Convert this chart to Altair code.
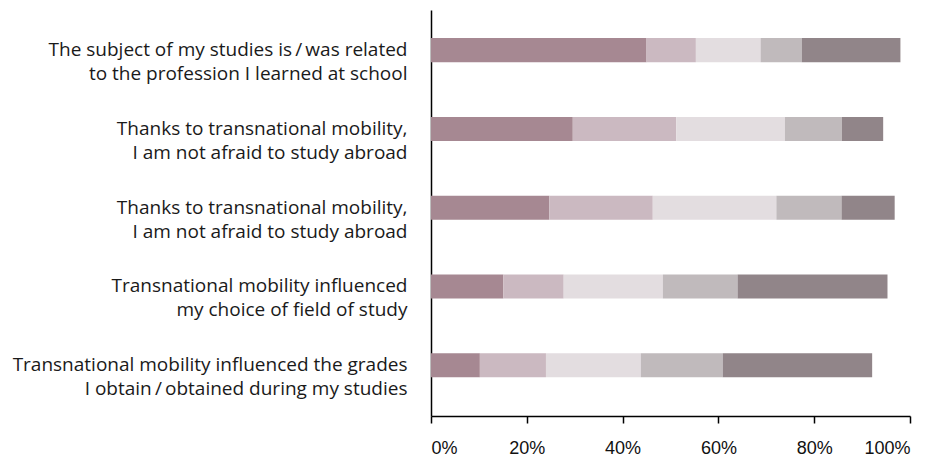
import json
import altair as alt
import pandas as pd

# Statements (two lines each), top to bottom
statements = [
    ["The subject of my studies is\u2009/\u2009was related", "to the profession I learned at school"],
    ["Thanks to transnational mobility,", "I am not afraid to study abroad"],
    ["Thanks to transnational mobility,", "I am not afraid to study abroad"],
    ["Transnational mobility influenced", "my choice of field of study"],
    ["Transnational mobility influenced the grades", "I obtain\u2009/\u2009obtained during my studies"],
]

# Response categories (left to right) and their colours
responses = ["R1", "R2", "R3", "R4", "R5"]
colors = ["#A68892", "#CBB9C1", "#E3DDE0", "#C0BABC", "#918589"]

# Percent shares per statement, per response category
values = [
    [45.0, 10.3, 13.5, 8.6, 20.6],
    [29.6, 21.6, 22.7, 11.9, 8.6],
    [24.7, 21.6, 25.8, 13.6, 11.1],
    [15.1, 12.6, 20.7, 15.6, 31.3],
    [10.2, 13.8, 19.8, 17.1, 31.2],
]

keys = [str(i) for i in range(len(statements))]
rows = []
for i, vals in enumerate(values):
    for j, v in enumerate(vals):
        rows.append({"key": keys[i], "resp": responses[j], "order": j, "value": v / 100.0})
df = pd.DataFrame(rows)

label_expr = json.dumps(statements) + "[toNumber(datum.value)]"

chart = (
    alt.Chart(df)
    .mark_bar()
    .encode(
        x=alt.X(
            "value:Q",
            stack="zero",
            scale=alt.Scale(domain=[0, 1], nice=False),
            axis=alt.Axis(
                format=".0%",
                values=[0, 0.2, 0.4, 0.6, 0.8, 1.0],
                title=None,
                grid=False,
                domainColor="#000000",
                domainWidth=1.5,
                tickColor="#000000",
                tickWidth=1.5,
                tickSize=7,
                labelFont="Liberation Sans",
                labelFontSize=18,
                labelColor="#111111",
                labelPadding=16,
            ),
        ),
        y=alt.Y(
            "key:N",
            sort=keys,
            scale=alt.Scale(domain=keys, paddingInner=0.695, paddingOuter=0.425, align=0.42),
            axis=alt.Axis(
                title=None,
                ticks=False,
                grid=False,
                domainColor="#000000",
                domainWidth=1.5,
                labelExpr=label_expr,
                labelFont="Open Sans",
                labelFontSize=19,
                labelColor="#1a1a1a",
                labelLineHeight=24,
                labelPadding=24,
                labelLimit=0,
            ),
        ),
        color=alt.Color(
            "resp:N",
            scale=alt.Scale(domain=responses, range=colors),
            legend=None,
        ),
        order=alt.Order("order:Q"),
    )
    .properties(
        width=479,
        height=406,
        autosize=alt.AutoSizeParams(type="none"),
        padding={"left": 423, "top": 2, "right": 30, "bottom": 40},
    )
    .configure_view(stroke=None)
)

chart.save("out.html", embed_options={"renderer": "svg", "actions": False})
